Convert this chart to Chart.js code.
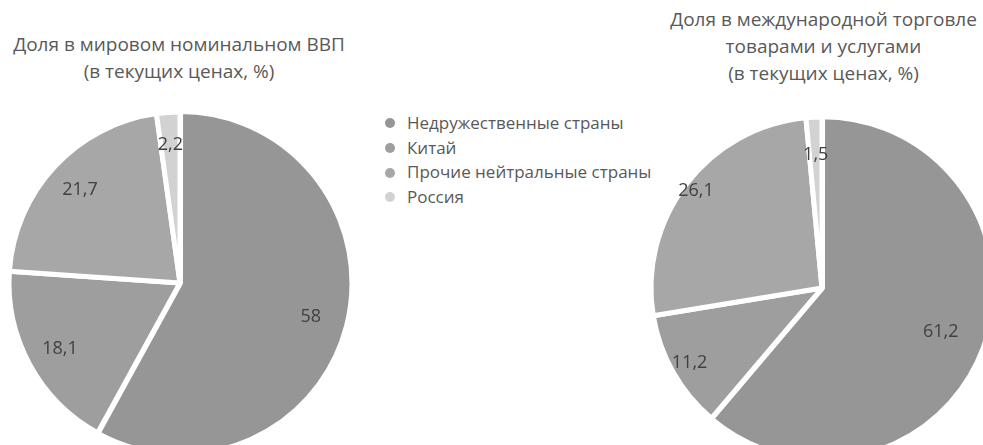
<!DOCTYPE html>
<html>
<head>
<meta charset="utf-8">
<script src="https://cdn.jsdelivr.net/npm/chart.js@4"></script>
<style>
    html, body { margin: 0; padding: 0; background: #fff; width: 983px; height: 445px; overflow: hidden; }
    body { position: relative; font-family: "Open Sans", "Noto Sans", sans-serif; color: #595959; }
    .title { position: absolute; text-align: center; font-size: 19px; line-height: 27px; color: #595959; white-space: nowrap; }
    .box { position: absolute; width: 360px; height: 360px; }
    #legend { position: absolute; left: 380px; top: 111px; font-size: 17px; line-height: 24.7px; color: #595959; white-space: nowrap; }
    #legend div { display: flex; align-items: center; }
    #legend span.dot { width: 10px; height: 10px; border-radius: 50%; display: inline-block; margin-left: 5px; margin-right: 12px; }
</style>
</head>
<body>
<div class="title" style="left:0px; top:31px; width:358px;">Доля в мировом номинальном ВВП<br>(в текущих ценах, %)</div>
<div class="title" style="left:652px; top:6px; width:343px;">Доля в международной торговле<br>товарами и услугами<br>(в текущих ценах, %)</div>
<div id="legend"></div>
<div class="box" style="left:0px; top:103px;"><canvas id="gdp"></canvas></div>
<div class="box" style="left:642px; top:108px;"><canvas id="trade"></canvas></div>

<script>
    // Data
    const categories = ['Недружественные страны', 'Китай', 'Прочие нейтральные страны', 'Россия'];
    const gdpShare = [58, 18.1, 21.7, 2.2];
    const tradeShare = [61.2, 11.2, 26.1, 1.5];

    // Style
    const sliceColors = ['#969696', '#9e9e9e', '#a7a7a7', '#d2d2d2'];
    const gdpLabelPos = [0.79, 0.80, 0.80, 0.81];
    const tradeLabelPos = [0.74, 0.89, 0.93, 0.78];

    // HTML legend built from categories
    const legendEl = document.getElementById('legend');
    categories.forEach((name, i) => {
        const row = document.createElement('div');
        const dot = document.createElement('span');
        dot.className = 'dot';
        dot.style.background = sliceColors[i];
        row.appendChild(dot);
        row.appendChild(document.createTextNode(name));
        legendEl.appendChild(row);
    });

    // Draws value labels at a fraction of the radius along each slice's mid angle
    const sliceLabels = {
        id: 'sliceLabels',
        afterDatasetsDraw(chart, args, opts) {
            const c = chart.ctx;
            const meta = chart.getDatasetMeta(0);
            const values = chart.data.datasets[0].data;
            c.save();
            c.font = '18px "Open Sans", "Noto Sans", sans-serif';
            c.fillStyle = '#404040';
            c.textAlign = 'center';
            c.textBaseline = 'middle';
            meta.data.forEach((arc, i) => {
                const p = arc.getProps(['x', 'y', 'startAngle', 'endAngle', 'outerRadius'], true);
                const mid = (p.startAngle + p.endAngle) / 2;
                const r = p.outerRadius * opts.pos[i];
                const txt = String(values[i]).replace('.', ',');
                c.fillText(txt, p.x + Math.cos(mid) * r, p.y + Math.sin(mid) * r);
            });
            c.restore();
        }
    };

    function pie_chart(id, values, labelPos) {
        new Chart(document.getElementById(id), {
            type: 'pie',
            data: {
                labels: categories,
                datasets: [{
                    data: values,
                    backgroundColor: sliceColors,
                    borderColor: '#ffffff',
                    borderWidth: 5,
                    offset: [2, 0, 0, 0]
                }]
            },
            options: {
                responsive: true,
                maintainAspectRatio: false,
                animation: false,
                radius: 171,
                layout: { padding: 0 },
                plugins: {
                    legend: { display: false },
                    tooltip: { enabled: false },
                    sliceLabels: { pos: labelPos }
                }
            },
            plugins: [sliceLabels]
        });
    }

    pie_chart('gdp', gdpShare, gdpLabelPos);
    pie_chart('trade', tradeShare, tradeLabelPos);
</script>
</body>
</html>
